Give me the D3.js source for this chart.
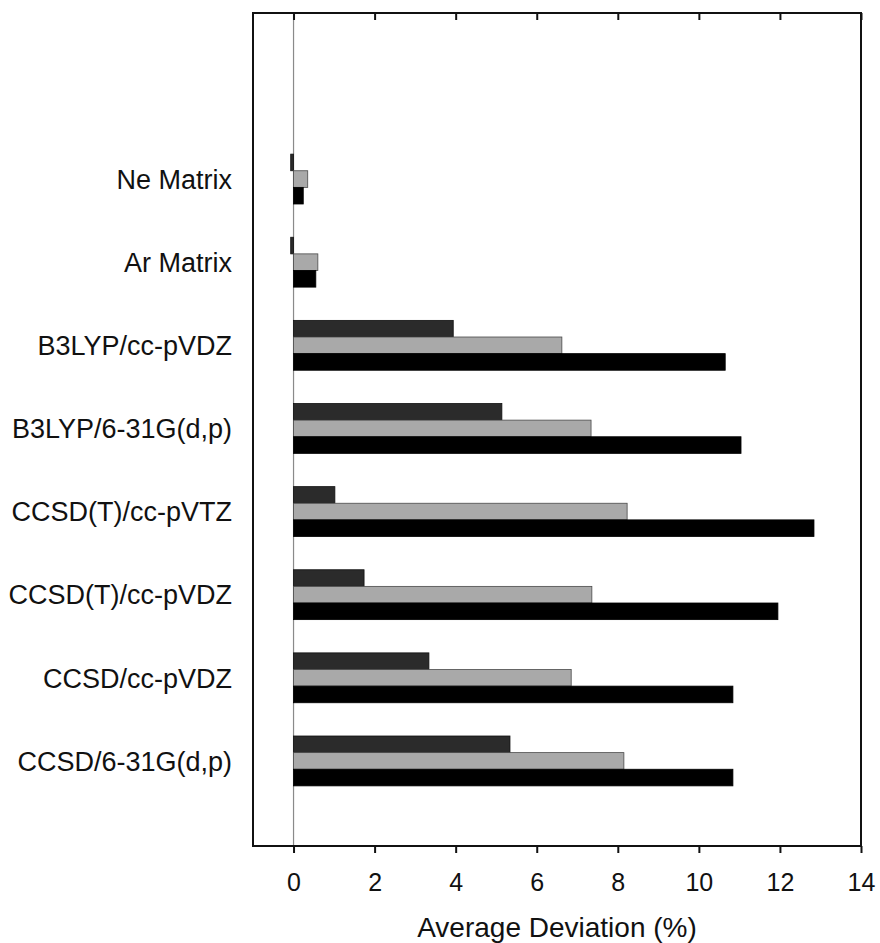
<!DOCTYPE html>
<html>
<head>
<meta charset="utf-8">
<script src="https://cdn.jsdelivr.net/npm/d3@7"></script>
<style>
  html, body { margin: 0; padding: 0; background: #fff; }
  svg { display: block; }
  text { font-family: "Liberation Sans", Arial, Helvetica, sans-serif; fill: #111; }
</style>
</head>
<body>
<svg id="chart" width="880" height="943"></svg>
<script>
// Methods / reference sets, listed top to bottom
const categories = [
  "Ne Matrix",
  "Ar Matrix",
  "B3LYP/cc-pVDZ",
  "B3LYP/6-31G(d,p)",
  "CCSD(T)/cc-pVTZ",
  "CCSD(T)/cc-pVDZ",
  "CCSD/cc-pVDZ",
  "CCSD/6-31G(d,p)"
];

// Three series per method (dark, light gray, black), average deviation in %
const seriesNames = ["series1", "series2", "series3"];
const series1 = [-0.07, -0.07, 3.94, 5.14, 1.02, 1.74, 3.34, 5.34];
const series2 = [0.35, 0.60, 6.62, 7.34, 8.23, 7.36, 6.85, 8.15];
const series3 = [0.24, 0.55, 10.65, 11.04, 12.84, 11.95, 10.84, 10.84];

const xTicks = [0, 2, 4, 6, 8, 10, 12, 14];
const xDomain = [-1, 14];
const xTitle = "Average Deviation (%)";

const fills = ["#2b2b2b", "#a9a9a9", "#000000"];
const strokes = ["#111111", "#4a4a4a", "#000000"];

const svg = d3.select("#chart");

// Plot frame
const frame = { left: 253, right: 861, top: 13, bottom: 846 };

const x = d3.scaleLinear().domain(xDomain).range([frame.left, frame.right]);

const y = d3.scaleBand()
  .domain(categories)
  .range([137.5, 802.5])
  .paddingInner(0.4)
  .paddingOuter(0.2);

const ySub = d3.scaleBand()
  .domain(seriesNames)
  .range([0, y.bandwidth()]);

const rows = categories.map((c, i) => ({
  category: c,
  values: [series1[i], series2[i], series3[i]]
}));

// Zero reference line
svg.append("line")
  .attr("x1", x(0)).attr("x2", x(0))
  .attr("y1", frame.top).attr("y2", frame.bottom)
  .attr("stroke", "#8a8a8a")
  .attr("stroke-width", 1.2);

// Bars
const groups = svg.append("g").selectAll("g")
  .data(rows)
  .join("g")
  .attr("transform", d => `translate(0,${y(d.category)})`);

groups.selectAll("rect")
  .data(d => d.values.map((v, k) => ({ v, k })))
  .join("rect")
  .attr("x", d => x(Math.min(0, d.v)))
  .attr("width", d => Math.abs(x(d.v) - x(0)))
  .attr("y", d => ySub(seriesNames[d.k]))
  .attr("height", ySub.bandwidth())
  .attr("fill", d => fills[d.k])
  .attr("stroke", d => strokes[d.k])
  .attr("stroke-width", 0.8);

// Frame
svg.append("rect")
  .attr("x", frame.left).attr("y", frame.top)
  .attr("width", frame.right - frame.left)
  .attr("height", frame.bottom - frame.top)
  .attr("fill", "none")
  .attr("stroke", "#111")
  .attr("stroke-width", 2);

// Bottom axis (ticks outward, labelled)
const bottomAxis = svg.append("g")
  .attr("transform", `translate(0,${frame.bottom})`)
  .call(d3.axisBottom(x).tickValues(xTicks).tickSize(7).tickPadding(20).tickFormat(d3.format("d")));
bottomAxis.select(".domain").remove();
bottomAxis.selectAll(".tick line").attr("stroke", "#111").attr("stroke-width", 2);
bottomAxis.selectAll(".tick text")
  .attr("font-size", 25)
  .attr("fill", "#111");

// Top axis (ticks inward, unlabelled)
const topAxis = svg.append("g")
  .attr("transform", `translate(0,${frame.top})`)
  .call(d3.axisTop(x).tickValues(xTicks).tickSize(-7).tickFormat(""));
topAxis.select(".domain").remove();
topAxis.selectAll(".tick line").attr("stroke", "#111").attr("stroke-width", 2);

// Category labels
svg.append("g").selectAll("text")
  .data(categories)
  .join("text")
  .attr("x", 232)
  .attr("y", d => y(d) + y.bandwidth() / 2)
  .attr("dy", "0.36em")
  .attr("text-anchor", "end")
  .attr("font-size", 27)
  .text(d => d);

// Axis title, centred under the frame
svg.append("text")
  .attr("x", (frame.left + frame.right) / 2)
  .attr("y", 937)
  .attr("text-anchor", "middle")
  .attr("font-size", 28)
  .text(xTitle);
</script>
</body>
</html>
